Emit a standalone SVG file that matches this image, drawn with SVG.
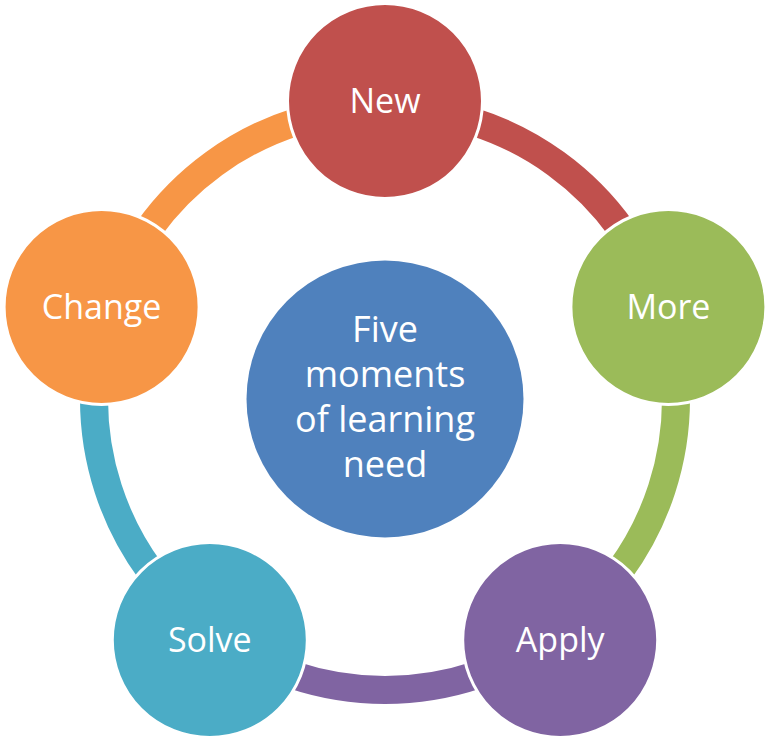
<svg xmlns="http://www.w3.org/2000/svg" width="769" height="742" viewBox="0 0 769 742">
<style>
.arc{fill:none;stroke-width:28}
.node{stroke:#fff;stroke-width:3}
.lbl{font-family:"Open Sans","Liberation Sans",sans-serif;font-size:34px;fill:#fff;text-anchor:middle}
.big{font-size:36px}
</style>
<rect width="769" height="742" fill="#fff"/>
<g id="connectors">
<path class="arc" stroke="#C0504D" d="M385,108 A291,291 0 0 1 661.76,309.08"/>
<path class="arc" stroke="#9BBB59" d="M661.76,309.08 A291,291 0 0 1 556.05,634.42"/>
<path class="arc" stroke="#8064A2" d="M556.05,634.42 A291,291 0 0 1 213.95,634.42"/>
<path class="arc" stroke="#4BACC6" d="M213.95,634.42 A291,291 0 0 1 108.24,309.08"/>
<path class="arc" stroke="#F79646" d="M108.24,309.08 A291,291 0 0 1 385,108"/>
</g>
<g id="center">
<circle cx="385" cy="399" r="138.5" fill="#4F81BD"/>
<text class="lbl big" x="385" y="342">Five</text>
<text class="lbl big" x="385" y="387">moments</text>
<text class="lbl big" x="385" y="432">of learning</text>
<text class="lbl big" x="385" y="477">need</text>
</g>
<g id="new">
<circle class="node" cx="385" cy="101" r="97.5" fill="#C0504D"/>
<text class="lbl" x="385" y="113">New</text>
</g>
<g id="more">
<circle class="node" cx="668.4" cy="306.9" r="97.5" fill="#9BBB59"/>
<text class="lbl" x="668.4" y="319">More</text>
</g>
<g id="apply">
<circle class="node" cx="560.2" cy="640.1" r="97.5" fill="#8064A2"/>
<text class="lbl" x="560.2" y="652">Apply</text>
</g>
<g id="solve">
<circle class="node" cx="209.8" cy="640.1" r="97.5" fill="#4BACC6"/>
<text class="lbl" x="209.8" y="652">Solve</text>
</g>
<g id="change">
<circle class="node" cx="101.6" cy="306.9" r="97.5" fill="#F79646"/>
<text class="lbl" x="101.6" y="319">Change</text>
</g>
</svg>
